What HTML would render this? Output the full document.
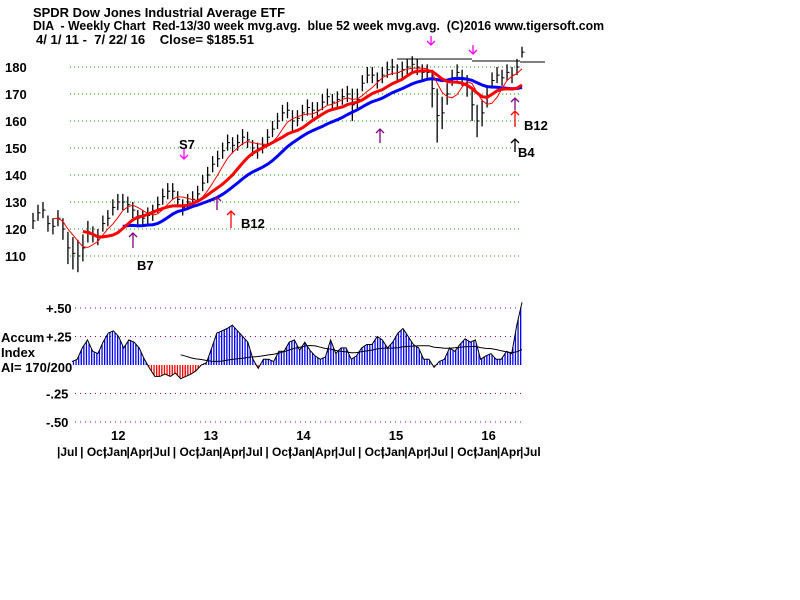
<!DOCTYPE html>
<html><head><meta charset="utf-8"><style>
body{margin:0;background:#fff;}
svg{display:block;font-family:"Liberation Sans",sans-serif;}
.t{font-size:13px;font-weight:bold;fill:#000;white-space:pre;}
.ax{font-size:13px;font-weight:bold;fill:#000;white-space:pre;}
.mo{font-size:12px;font-weight:bold;fill:#000;white-space:pre;}
</style></head><body>
<svg id="c" width="800" height="600" viewBox="0 0 800 600">
<defs>
<pattern id="bstr" width="2.6" height="4" patternUnits="userSpaceOnUse"><rect x="0" y="0" width="1.3" height="4" fill="#0000ff"/></pattern>
<pattern id="rstr" width="2.6" height="4" patternUnits="userSpaceOnUse"><rect x="0" y="0" width="1.3" height="4" fill="#ff0000"/></pattern>
<clipPath id="cpos"><rect x="0" y="280" width="800" height="85"/></clipPath>
<clipPath id="cneg"><rect x="0" y="365" width="800" height="80"/></clipPath>
</defs>
<text class="t" x="33" y="17" textLength="252" lengthAdjust="spacingAndGlyphs">SPDR Dow Jones Industrial Average ETF</text>
<text class="t" x="33" y="30" textLength="571" lengthAdjust="spacingAndGlyphs">DIA  - Weekly Chart  Red-13/30 week mvg.avg.  blue 52 week mvg.avg.  (C)2016 www.tigersoft.com</text>
<text class="t" x="36" y="44" textLength="218" lengthAdjust="spacingAndGlyphs">4/ 1/ 11 -  7/ 22/ 16    Close= $185.51</text>
<g id="pgrid"></g><g id="agrid"></g><g id="xaxis"></g>
<g id="price"></g><g id="accum"></g><g id="sig"></g>
</svg>
<script>
const priceTicks=[180,170,160,150,140,130,120,110];
const accTicks=[0.5,0.25,-0.25,-0.5];
const accTickLabels=["+.50","+.25","-.25","-.50"];
const closes=[123,126,127,122,121,124,120,113,111,110,113,119,118,117,122,124,128,130,130,129,127,124,124,125,126,129,132,134,134,131,128,130,131,133,137,140,144,146,149,152,151,152,154,153,150,149,151,154,157,160,163,164,160,161,163,165,164,164,167,169,167,168,169,170,166,168,174,177,177,175,177,179,180,178,179,180,181,180,178,178,172,162,163,170,176,178,176,173,166,160,163,169,175,177,176,178,177,180,185.5];
const spreads=[3,3,3,3,3,3,4,6,6,6,5,4,3,3,3,3,3,3,3,3,3,3,3,3,3,3,3,3,3,3,3,3,3,3,3,3,3,3,3,3,3,3,3,3,3,3,3,3,3,3,3,3,4,3,3,3,3,3,3,3,3,3,3,3,6,4,3,3,3,3,3,3,3,3,3,3,3,3,3,3,7,10,6,4,3,3,3,4,6,6,5,4,3,3,3,3,3,3,2];
const accum=[0.03,0.05,0.15,0.22,0.12,0.1,0.2,0.28,0.3,0.25,0.15,0.22,0.2,0.15,0.05,-0.03,-0.1,-0.1,-0.08,-0.1,-0.07,-0.12,-0.1,-0.08,-0.05,0.0,0.02,0.15,0.28,0.3,0.32,0.35,0.3,0.25,0.2,0.05,-0.03,0.05,0.05,0.03,0.12,0.12,0.2,0.22,0.13,0.2,0.13,0.08,0.05,0.07,0.22,0.1,0.15,0.15,0.05,0.08,0.15,0.18,0.18,0.25,0.22,0.15,0.2,0.28,0.32,0.25,0.18,0.15,0.05,0.05,-0.02,0.03,0.05,0.15,0.12,0.18,0.23,0.2,0.22,0.05,0.08,0.1,0.05,0.05,0.12,0.1,0.35,0.55];
const yearLabels=["12","13","14","15","16"];
const monthLabels=["Jul"," Oct","Jan","Apr"];

const NS="http://www.w3.org/2000/svg";
function mk(tag,attrs,parent){const e=document.createElementNS(NS,tag);for(const k in attrs)e.setAttribute(k,attrs[k]);parent.appendChild(e);return e;}
const py=p=>67+(180-p)*2.7;
const px=i=>33+i*(522-33)/(closes.length-1);
const ay=v=>365-v*114;
const ax=i=>72+i*(522-72)/(accum.length-1);

const pg=document.getElementById('pgrid');
priceTicks.forEach(t=>{
 const l=mk('line',{x1:70,x2:522,y1:py(t),y2:py(t),stroke:'#00a000','stroke-dasharray':'1 3'},pg);
 
 
 const tx=mk('text',{x:5,y:py(t)+5,class:'ax'},pg);tx.textContent=t;
 
 
});
const ag=document.getElementById('agrid');
accTicks.forEach((t,i)=>{
 const l=mk('line',{x1:75,x2:522,y1:ay(t),y2:ay(t),stroke:'#a000a0','stroke-dasharray':'1 4'},ag);
 
 
 const tx=mk('text',{x:46,y:ay(t)+5,class:'ax'},ag);tx.textContent=accTickLabels[i];
 
 
});
[["Accum",342],["Index",357],["AI= 170/200",372]].forEach(([s,y])=>{
 const tx=mk('text',{x:1,y:y,class:'ax'},ag);tx.textContent=s;
 
 
});
const xg=document.getElementById('xaxis');
for(let k=0;k<=20;k++){
 const x=57+k*23.15;
 const tx=mk('text',{x:x,y:456,class:'mo'},xg);tx.textContent='|'+monthLabels[k%4];
 
 
}
yearLabels.forEach((s,i)=>{
 const tx=mk('text',{x:111+i*92.6,y:440,class:'ax'},xg);tx.textContent=s;
 
 
});

const pr=document.getElementById('price');
function sma(arr,n){return arr.map((v,i)=>{if(i<n-1)return null;let s=0;for(let j=i-n+1;j<=i;j++)s+=arr[j];return s/n;});}
function drawLine(vals,xf,yf,color,w,name,parent){
 let d='';vals.forEach((v,i)=>{if(v==null)return;d+=(d?'L':'M')+xf(i).toFixed(1)+','+yf(v).toFixed(1);});
 const p=mk('path',{d:d,fill:'none',stroke:color,'stroke-width':w},parent);
 
 
}
closes.forEach((c,i)=>{
 const x=px(i);
 const b=mk('line',{x1:x,x2:x,y1:py(c+spreads[i]),y2:py(c-spreads[i]),stroke:'#000','stroke-width':1.3},pr);
 
 
 const t=mk('line',{x1:x,x2:x+2.5,y1:py(c),y2:py(c),stroke:'#000','stroke-width':1},pr);
 
 
});
drawLine(sma(closes,19),px,py,'#0000ff',3,'ma-52-week',pr);
drawLine(sma(closes,11),px,py,'#ff0000',3,'ma-30-week',pr);
drawLine(sma(closes,5),px,py,'#ff0000',1,'ma-13-week',pr);
[[397,472,59],[472,520,61],[520,545,62]].forEach(s=>{
 const l=mk('line',{x1:s[0],x2:s[1],y1:s[2],y2:s[2],stroke:'#000'},pr);
 
 
});

const ac=document.getElementById('accum');
let d='M'+ax(0)+','+ay(0);
accum.forEach((v,i)=>{d+='L'+ax(i).toFixed(1)+','+ay(v).toFixed(1);});
d+='L'+ax(accum.length-1)+','+ay(0)+'Z';
const pos=mk('path',{d:d,fill:'url(#bstr)','clip-path':'url(#cpos)'},ac);


const neg=mk('path',{d:d,fill:'url(#rstr)','clip-path':'url(#cneg)'},ac);


drawLine(accum,ax,ay,'#000',1,'accum-index-line',ac);
const am=sma(accum,20).map((v,i)=>i<21?null:v);
drawLine(am,ax,ay,'#000',1,'accum-moving-average',ac);

const sg=document.getElementById('sig');
function arrow(x,y1,y2,color,name){
 const g=mk('g',{stroke:color,fill:'none','stroke-width':1.3},sg);
 
 
 mk('line',{x1:x,x2:x,y1:y1,y2:y2},g);
 const tip=y2;const dir=y2<y1?1:-1;
 mk('path',{d:`M${x-4},${tip+dir*4}L${x},${tip}L${x+4},${tip+dir*4}`},g);
}
arrow(431,36,45,'#ff00ff','sell-arrow');
arrow(473,45,54,'#ff00ff','sell-arrow');
arrow(184,149,159,'#ff00ff','s7-arrow');
arrow(133,248,233,'#800080','b7-arrow');
arrow(217,210,197,'#800080','buy-arrow');
arrow(380,143,129,'#800080','buy-arrow');
arrow(515,110,98,'#800080','buy-arrow');
arrow(231,228,211,'#ff0000','b12-arrow');
arrow(515,127,111,'#ff0000','b12-arrow');
arrow(515,152,139,'#000000','b4-arrow');
[["S7",179,149],["B7",137,270],["B12",241,228],["B12",524,130],["B4",518,157]].forEach(([s,x,y])=>{
 const tx=mk('text',{x:x,y:y,class:'ax','font-size':'14'},sg);tx.textContent=s;
 
 
});
</script>
</body></html>
